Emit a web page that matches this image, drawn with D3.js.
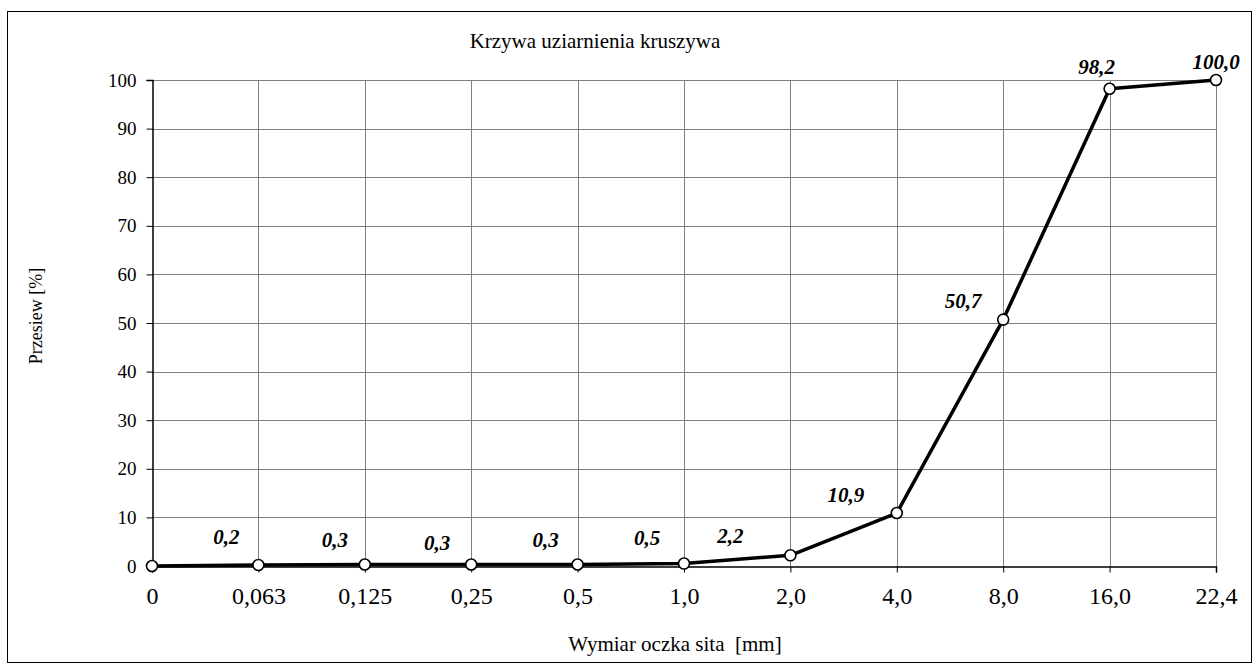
<!DOCTYPE html>
<html>
<head>
<meta charset="utf-8">
<script src="https://cdn.jsdelivr.net/npm/d3@7"></script>
<style>
  body { margin: 0; background: #fff; }
  .grid line { stroke: #808080; stroke-width: 1; }
</style>
</head>
<body>
<script>
// sieve sizes (x categories) and passing percentage
var sieves = ["0", "0,063", "0,125", "0,25", "0,5", "1,0", "2,0", "4,0", "8,0", "16,0", "22,4"];
var passing = [0, 0.2, 0.3, 0.3, 0.3, 0.5, 2.2, 10.9, 50.7, 98.2, 100.0];
var yTicks = [0, 10, 20, 30, 40, 50, 60, 70, 80, 90, 100];

// manual label offsets (like in the excel original)
var labelDx = [0, -32, -30, -34, -32, -37, -60, -51, -40, -13, 0];
var labelDy = [0, -28, -25, -22, -25, -26, -19, -18, -19, -22, -18];

var serif = "'Liberation Serif', 'Times New Roman', serif";

var W = 1259, H = 671;
// plot area (don't call it "top", window.top is taken)
var plot = {left: 152, right: 1216, top: 80, bottom: 566};

var svg = d3.select("body").append("svg")
    .attr("width", W)
    .attr("height", H)
    .style("font-family", serif);

// outer frame
svg.append("rect")
    .attr("x", 7.5).attr("y", 11.5)
    .attr("width", 1244).attr("height", 651)
    .attr("fill", "none")
    .attr("stroke", "#000")
    .attr("stroke-width", 1);

var x = d3.scalePoint().domain(sieves).range([plot.left, plot.right]).padding(0);
var y = d3.scaleLinear().domain([0, 100]).range([plot.bottom, plot.top]);

// horizontal grid
svg.append("g")
    .attr("class", "grid")
    .selectAll("line")
    .data(yTicks.slice(1))
    .enter().append("line")
    .attr("x1", plot.left).attr("x2", plot.right)
    .attr("y1", function(d) { return Math.round(y(d)) + 0.5; })
    .attr("y2", function(d) { return Math.round(y(d)) + 0.5; });

// vertical grid
svg.append("g")
    .attr("class", "grid")
    .selectAll("line")
    .data(sieves.slice(1))
    .enter().append("line")
    .attr("x1", function(d) { return Math.round(x(d)) + 0.5; })
    .attr("x2", function(d) { return Math.round(x(d)) + 0.5; })
    .attr("y1", plot.top).attr("y2", plot.bottom);

// y axis
var yAxis = svg.append("g")
    .attr("transform", "translate(" + (plot.left + 0.5) + ",0)")
    .call(d3.axisLeft(y).tickValues(yTicks).tickSize(6).tickPadding(10)
      .tickFormat(function(d) { return d; }));
yAxis.select(".domain").attr("stroke", "#000").attr("stroke-width", 1.5);
yAxis.selectAll(".tick line").attr("stroke", "#000");
yAxis.selectAll("text")
    .style("font-size", "19px")
    .style("font-family", serif);

// x axis
var xAxis = svg.append("g")
    .attr("transform", "translate(0," + (plot.bottom + 0.5) + ")")
    .call(d3.axisBottom(x).tickSize(6).tickPadding(14));
xAxis.select(".domain").attr("stroke", "#000").attr("stroke-width", 1.5);
xAxis.selectAll(".tick line").attr("stroke", "#000");
xAxis.selectAll("text")
    .style("font-size", "24px")
    .style("font-family", serif);

// the curve
var line = d3.line()
    .x(function(d, i) { return x(sieves[i]); })
    .y(function(d) { return y(d); });

svg.append("path")
    .datum(passing)
    .attr("d", line)
    .attr("fill", "none")
    .attr("stroke", "#000")
    .attr("stroke-width", 3.5)
    .attr("stroke-linejoin", "round");

// markers
svg.selectAll("circle.pt")
    .data(passing)
    .enter().append("circle")
    .attr("class", "pt")
    .attr("cx", function(d, i) { return x(sieves[i]); })
    .attr("cy", function(d) { return y(d); })
    .attr("r", 5.5)
    .attr("fill", "#fff")
    .attr("stroke", "#000")
    .attr("stroke-width", 1.6);

// value labels (first point has none)
svg.selectAll("text.lbl")
    .data(passing.slice(1))
    .enter().append("text")
    .attr("class", "lbl")
    .attr("x", function(d, i) { return x(sieves[i + 1]) + labelDx[i + 1]; })
    .attr("y", function(d, i) { return y(d) + labelDy[i + 1]; })
    .attr("text-anchor", "middle")
    .attr("dominant-baseline", "central")
    .style("font-family", serif)
    .style("font-size", "21px")
    .style("font-weight", "bold")
    .style("font-style", "italic")
    .text(function(d) { return d.toFixed(1).replace(".", ","); });

// titles
svg.append("text")
    .attr("x", 595).attr("y", 48)
    .attr("text-anchor", "middle")
    .style("font-family", serif)
    .style("font-size", "21px")
    .text("Krzywa uziarnienia kruszywa");

svg.append("text")
    .attr("x", 675).attr("y", 651)
    .attr("text-anchor", "middle")
    .style("font-family", serif)
    .style("font-size", "21px")
    .style("white-space", "pre")
    .text("Wymiar oczka sita  [mm]");

svg.append("text")
    .attr("transform", "translate(42,316) rotate(-90)")
    .attr("text-anchor", "middle")
    .style("font-family", serif)
    .style("font-size", "18px")
    .text("Przesiew [%]");
</script>
</body>
</html>
